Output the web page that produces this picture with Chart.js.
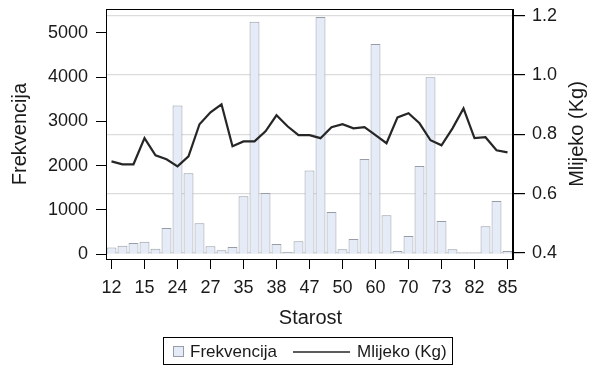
<!DOCTYPE html>
<html>
<head>
<meta charset="utf-8">
<script src="https://cdn.jsdelivr.net/npm/chart.js@4/dist/chart.umd.min.js"></script>
<style>
  html, body { margin: 0; padding: 0; background: #fff; }
  #wrap { width: 592px; height: 370px; }
</style>
</head>
<body>
<div id="wrap"><canvas id="c" width="592" height="370"></canvas></div>
<script>
// Age categories (only every third one gets a tick label)
const ages = [12, 13, 14, 15, 22, 23, 24, 25, 26, 27, 33, 34, 35, 36, 37, 38, 45, 46, 47,
              48, 49, 50, 58, 59, 60, 61, 62, 70, 71, 72, 73, 74, 81, 82, 83, 84, 85];

// Number of records per age
const frekvencija = [150, 190, 250, 280, 120, 590, 3360, 1830, 700, 180, 90, 160, 1310,
                     5250, 1380, 230, 40, 290, 1890, 5360, 950, 110, 340, 2150, 4750, 880,
                     70, 410, 1990, 4000, 750, 110, 30, 30, 630, 1200, 70];

// Average milk yield per age (kg)
const mlijeko = [0.709, 0.699, 0.699, 0.787, 0.729, 0.716, 0.692, 0.726, 0.834, 0.874,
                 0.901, 0.760, 0.776, 0.776, 0.810, 0.864, 0.827, 0.797, 0.797, 0.787,
                 0.824, 0.834, 0.820, 0.824, 0.797, 0.770, 0.857, 0.871, 0.837, 0.780,
                 0.763, 0.820, 0.887, 0.787, 0.790, 0.746, 0.739];

const freqTicks = [0, 1000, 2000, 3000, 4000, 5000];
const milkTicks = [0.4, 0.6, 0.8, 1.0, 1.2];

const FONT = '"Liberation Sans", Arial, Helvetica, sans-serif';
const TEXT = '#1a1a1a';
const BAR_FILL = '#e5ecf8';
const BAR_EDGE = '#979ca6';
const LINE_COL = '#262626';

Chart.defaults.font.family = FONT;
Chart.defaults.font.size = 18;
Chart.defaults.color = TEXT;

// Keep the plot box fixed: no automatic room for half-height edge labels
function noEdgePadding(s) {
  s.paddingTop = 0;
  s.paddingBottom = 0;
  s.paddingLeft = 0;
  s.paddingRight = 0;
}

// Frame, axis titles and the boxed legend
const decorations = {
  id: 'decorations',
  afterDraw(chart) {
    const ctx = chart.ctx;
    const a = chart.chartArea;
    ctx.save();
    ctx.strokeStyle = '#000';
    ctx.lineWidth = 1;
    ctx.strokeRect(a.left + 0.5, a.top + 0.5, a.right - a.left - 1, a.bottom - a.top);

    ctx.fillStyle = TEXT;
    ctx.textAlign = 'center';
    ctx.textBaseline = 'middle';
    ctx.font = '20px ' + FONT;
    const midY = (a.top + a.bottom) / 2;
    ctx.fillText('Starost', (a.left + a.right) / 2 + 1, 318);

    ctx.save();
    ctx.translate(20, midY);
    ctx.rotate(-Math.PI / 2);
    ctx.fillText('Frekvencija', 0, 0);
    ctx.restore();

    ctx.save();
    ctx.translate(577, midY);
    ctx.rotate(-Math.PI / 2);
    ctx.fillText('Mlijeko (Kg)', 0, 0);
    ctx.restore();

    // legend
    ctx.strokeStyle = '#000';
    ctx.lineWidth = 1;
    ctx.strokeRect(163.5, 337.5, 289, 27);
    ctx.fillStyle = BAR_FILL;
    ctx.fillRect(173, 346, 11, 11);
    ctx.strokeStyle = BAR_EDGE;
    ctx.strokeRect(173.5, 346.5, 10, 10);
    ctx.fillStyle = TEXT;
    ctx.font = '17px ' + FONT;
    ctx.textAlign = 'left';
    ctx.fillText('Frekvencija', 190, 352);
    ctx.strokeStyle = LINE_COL;
    ctx.lineWidth = 1.5;
    ctx.beginPath();
    ctx.moveTo(293, 352);
    ctx.lineTo(350, 352);
    ctx.stroke();
    ctx.fillText('Mlijeko (Kg)', 357, 352);
    ctx.restore();
  }
};

new Chart(document.getElementById('c'), {
  type: 'bar',
  data: {
    labels: ages.map(String),
    datasets: [
      {
        type: 'line',
        label: 'Mlijeko (Kg)',
        data: mlijeko,
        yAxisID: 'y1',
        borderColor: LINE_COL,
        borderWidth: 2.2,
        pointRadius: 0,
        tension: 0,
        order: 0
      },
      {
        type: 'bar',
        label: 'Frekvencija',
        data: frekvencija,
        yAxisID: 'y',
        backgroundColor: BAR_FILL,
        borderColor: BAR_EDGE,
        borderWidth: 1,
        barPercentage: 0.9,
        categoryPercentage: 1.0,
        order: 1
      }
    ]
  },
  options: {
    responsive: false,
    animation: false,
    layout: { padding: { top: 9, left: 0, right: 0, bottom: 0 } },
    plugins: {
      legend: { display: false },
      tooltip: { enabled: false }
    },
    scales: {
      x: {
        type: 'category',
        offset: true,
        afterFit(s) { s.height = 111; noEdgePadding(s); },
        afterBuildTicks(s) { s.ticks = s.ticks.filter((t, i) => i % 3 === 0); },
        grid: { offset: false, drawOnChartArea: false, drawTicks: true, tickLength: 10, tickColor: '#000' },
        border: { display: true, color: '#000', width: 1 },
        ticks: { autoSkip: false, maxRotation: 0, minRotation: 0, padding: 8, color: TEXT, font: { size: 18 } }
      },
      y: {
        position: 'left',
        min: -110,
        max: 5540,
        afterFit(s) { s.width = 106; noEdgePadding(s); },
        afterBuildTicks(s) { s.ticks = freqTicks.map(v => ({ value: v })); },
        grid: { drawOnChartArea: false, drawTicks: true, tickLength: 10, tickColor: '#000' },
        border: { display: true, color: '#000', width: 1 },
        ticks: { padding: 8, color: TEXT, font: { size: 18 }, callback: v => String(v) }
      },
      y1: {
        position: 'right',
        min: 0.38,
        max: 1.222,
        afterFit(s) { s.width = 79; noEdgePadding(s); },
        afterBuildTicks(s) { s.ticks = milkTicks.map(v => ({ value: v })); },
        grid: { drawOnChartArea: true, color: '#dcdcdc', lineWidth: 1.2, drawTicks: true, tickLength: 12, tickColor: '#000' },
        border: { display: true, color: '#000', width: 1 },
        ticks: { padding: 7, color: TEXT, font: { size: 18 }, callback: v => Number(v).toFixed(1) }
      }
    }
  },
  plugins: [decorations]
});
</script>
</body>
</html>
